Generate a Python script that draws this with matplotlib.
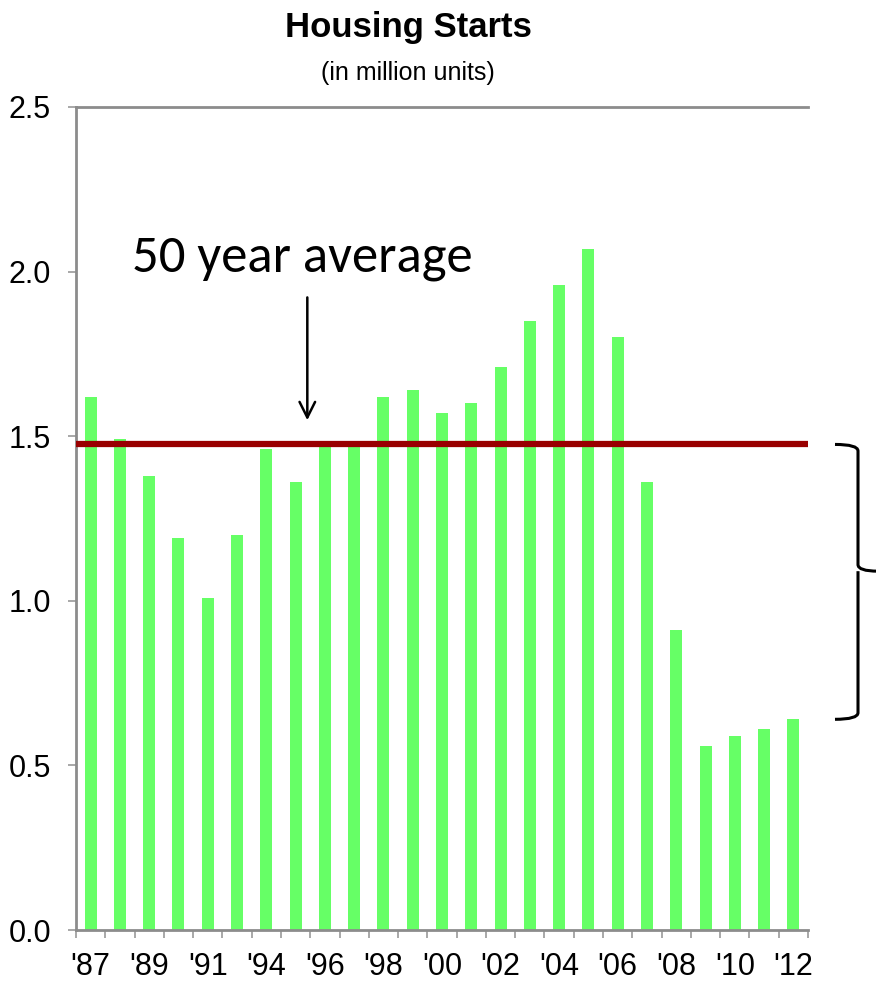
import numpy as np
import matplotlib
matplotlib.use("Agg")
import matplotlib.pyplot as plt
from matplotlib.path import Path
from matplotlib.patches import PathPatch
import matplotlib.transforms as mtransforms

years = ["'87", "'88", "'89", "'90", "'91", "'92", "'94", "'95", "'96", "'97",
         "'98", "'99", "'00", "'01", "'02", "'03", "'04", "'05", "'06", "'07",
         "'08", "'09", "'10", "'11", "'12"]
starts = [1.62, 1.49, 1.38, 1.19, 1.01, 1.20, 1.46, 1.36, 1.47, 1.47,
          1.62, 1.64, 1.57, 1.60, 1.71, 1.85, 1.96, 2.07, 1.80, 1.36,
          0.91, 0.56, 0.59, 0.61, 0.64]
average = 1.475
yticks = [0.0, 0.5, 1.0, 1.5, 2.0, 2.5]

narrow = ["Liberation Sans Narrow", "Liberation Sans", "DejaVu Sans"]

fig = plt.figure(figsize=(8.76, 9.92), dpi=100)
ax = fig.add_axes([76 / 876, 62 / 992, 732 / 876, 823 / 992])

x = np.arange(len(years))
ax.bar(x, starts, width=0.41, color="#66ff66", zorder=2)
ax.axhline(average, color="#990000", lw=4.5, zorder=3)

ax.set_xlim(-0.5, len(years) - 0.5)
ax.set_ylim(0, 2.5)

ax.set_yticks(yticks)
ax.set_yticklabels([f"{v:.1f}" for v in yticks], family=narrow, fontsize=22)
ax.set_xticks(x[::2])
ax.set_xticklabels(years[::2], family=narrow, fontsize=22)
ax.set_xticks(np.arange(-0.5, len(years)), minor=True)
ax.tick_params(axis="x", which="major", length=0, pad=16)
ax.tick_params(axis="x", which="minor", length=6, color="#999999", width=1.2)
ax.tick_params(axis="y", length=6, color="#999999", width=1.2, pad=12)

for s in ["left", "bottom", "top"]:
    ax.spines[s].set_color("#8c8c8c")
    ax.spines[s].set_linewidth(2)
ax.spines["right"].set_visible(False)

fig.text(0.466, 0.972, "Housing Starts", ha="center", va="center",
         family=narrow, fontsize=25, fontweight="bold")
fig.text(0.466, 0.926, "(in million units)", ha="center", va="center",
         family=narrow, fontsize=18)

ax.text(7.24, 2.04, "50 year average", family=["Carlito", "Lato", "DejaVu Sans"],
        fontsize=38, ha="center", va="center")
ax.annotate("", xy=(7.4, 1.54), xytext=(7.4, 1.93),
            arrowprops=dict(arrowstyle="->", lw=1.8, color="black",
                            mutation_scale=28))

# brace on the right
tr = mtransforms.blended_transform_factory(fig.transFigure, ax.transData)
x0, x1, x2 = 835 / 876, 858 / 876, 878 / 876
top, bot = average, starts[-1]
tip = 1.09
d = 0.02
verts = [(x0, top), (x1, top), (x1, top - d), (x1, tip + d), (x1, tip), (x2, tip),
         (x1, tip), (x1, tip - d), (x1, bot + d), (x1, bot), (x0, bot)]
codes = [Path.MOVETO, Path.CURVE3, Path.CURVE3, Path.LINETO, Path.CURVE3, Path.CURVE3,
         Path.MOVETO, Path.CURVE3, Path.LINETO, Path.CURVE3, Path.CURVE3]
ax.add_patch(PathPatch(Path(verts, codes), transform=tr, fill=False,
                       lw=2.2, color="black", clip_on=False))

fig.savefig("out.png", dpi=100)
